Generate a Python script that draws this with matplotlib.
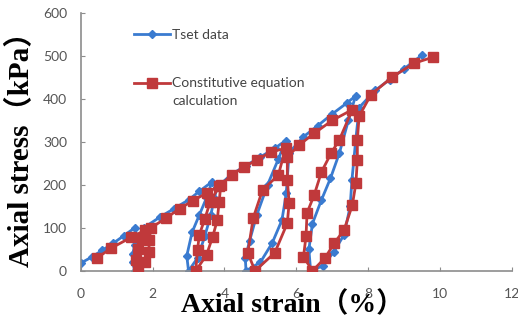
import matplotlib
matplotlib.use("Agg")
import matplotlib.pyplot as plt
from matplotlib.lines import Line2D

# Test data (blue diamonds)
test_strain = [0.0, 0.3, 0.6, 0.9, 1.2, 1.5,
               1.55, 1.5, 1.45, 1.45, 1.5,
               1.6, 1.65, 1.7, 1.75,
               2.2, 2.6, 3.0, 3.3, 3.65,
               3.5, 3.3, 3.1, 2.95, 3.0,
               3.25, 3.45, 3.62, 3.72, 3.8,
               4.2, 4.6, 5.0, 5.4, 5.7,
               5.5, 5.2, 4.9, 4.7, 4.58, 4.6,
               5.0, 5.33, 5.6, 5.72, 5.8,
               6.2, 6.6, 7.0, 7.4, 7.65,
               7.45, 7.2, 6.95, 6.7, 6.45, 6.35, 6.4,
               6.75, 7.05, 7.33, 7.5, 7.55, 7.65, 7.75,
               8.2, 8.6, 9.0, 9.5]
test_stress = [18, 32, 48, 64, 82, 100,
               80, 60, 40, 20, 0,
               25, 50, 78, 100,
               125, 145, 165, 185, 207,
               170, 130, 90, 35, 0,
               30, 80, 130, 170, 195,
               225, 245, 265, 285, 303,
               260, 200, 130, 70, 30, 0,
               20, 65, 118, 180, 275,
               312, 338, 365, 390, 407,
               350, 274, 215, 165, 110, 50, 0,
               12, 45, 84, 150, 212, 300, 380,
               420, 445, 470, 502]

# Constitutive equation calculation (red squares)
calc_strain = [0.45, 0.85, 1.4, 1.8,
               1.7, 1.6, 1.55, 1.6,
               1.8, 1.9, 1.9, 1.95,
               2.38, 2.75, 3.12, 3.5, 3.86,
               3.6, 3.45, 3.3, 3.25, 3.2,
               3.5, 3.67, 3.8, 3.85, 3.9,
               4.2, 4.55, 4.9, 5.3, 5.7,
               5.5, 5.06, 4.8, 4.65, 4.85,
               5.4, 5.75, 5.8, 5.75, 5.75,
               6.08, 6.5, 7.0, 7.56,
               7.2, 6.97, 6.7, 6.5, 6.3, 6.27, 6.2, 6.45,
               6.8, 7.06, 7.33, 7.56, 7.66, 7.7, 7.7, 7.75,
               8.08, 8.67, 9.28, 9.8]
calc_stress = [30, 53, 78, 95,
               75, 50, 25, 0,
               20, 45, 72, 100,
               123, 145, 163, 181, 198,
               160, 120, 84, 49, 0,
               37, 79, 118, 160, 200,
               223, 242, 258, 277, 285,
               223, 188, 123, 42, 0,
               42, 111, 158, 212, 265,
               293, 320, 350, 375,
               305, 274, 230, 177, 135, 80, 33, 0,
               30, 65, 95, 153, 204, 258, 305, 360,
               410, 451, 483, 497]

x_ticks = [0, 2, 4, 6, 8, 10, 12]
y_ticks = [0, 100, 200, 300, 400, 500, 600]
legend_labels = ["Tset data", "Constitutive equation", "calculation"]

fig = plt.figure(figsize=(5.18, 3.24), dpi=100)
ax = fig.add_axes([0.156, 0.164, 0.832, 0.796])

blue = "#3a7bd0"
red = "#c0393b"

ax.plot(test_strain, test_stress, color=blue, lw=2, marker="D", ms=4,
        mfc=blue, mec=blue, zorder=2)
ax.plot(calc_strain, calc_stress, color=red, lw=2, marker="s", ms=7.5,
        mfc=red, mec=red, zorder=3)

ax.set_xlim(0, 12)
ax.set_ylim(0, 600)
ax.set_xticks(x_ticks)
ax.set_yticks(y_ticks)
for s in ["top", "right"]:
    ax.spines[s].set_visible(False)
for s in ["left", "bottom"]:
    ax.spines[s].set_color("#8c8c8c")
    ax.spines[s].set_linewidth(1.2)
ax.tick_params(direction="in", length=3, color="#8c8c8c",
               labelsize=10, labelcolor="#555555")
ax.tick_params(axis="x", pad=12)
ax.tick_params(axis="y", pad=10)
for lab in ax.get_xticklabels() + ax.get_yticklabels():
    lab.set_family("Lato")

ax.set_xlabel("Axial strain（%）", family=["Liberation Serif", "Noto Sans CJK SC"],
              fontsize=20, fontweight="bold")
ax.set_ylabel("Axial stress（kPa）", family=["Liberation Serif", "Noto Sans CJK SC"],
              fontsize=21, fontweight="bold")
ax.xaxis.set_label_coords(0.49, -0.08)
ax.yaxis.set_label_coords(-0.105, 0.5)

# legend (drawn manually so the red handle aligns with the first text line)
handles = [Line2D([], [], color=blue, lw=2, marker="D", ms=4),
           Line2D([], [], color=red, lw=2, marker="s", ms=7.5)]
leg = ax.legend(handles, legend_labels[:2], loc="upper left",
                bbox_to_anchor=(0.095, 0.985), frameon=False,
                prop={"family": "Lato", "size": 10}, labelspacing=2.6,
                handlelength=2.6, handletextpad=0.15)
for t in leg.get_texts():
    t.set_color("#444444")
fig.canvas.draw()
bb = leg.get_texts()[1].get_window_extent()
inv = fig.transFigure.inverted()
x0, y0 = inv.transform((bb.x0, bb.y0 - 18))
fig.text(x0, y0, legend_labels[2], family="Lato", fontsize=10,
         color="#444444", ha="left", va="bottom")

fig.savefig("out.png", dpi=100)
